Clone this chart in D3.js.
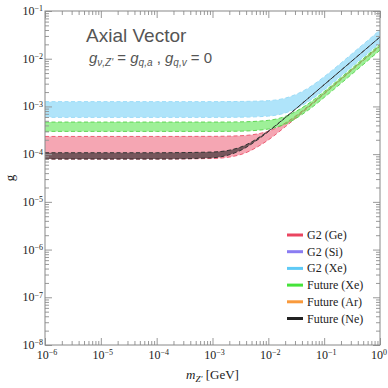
<!DOCTYPE html>
<html>
<head>
<meta charset="utf-8">
<script src="https://cdn.jsdelivr.net/npm/d3@7"></script>
<style>
  body { margin: 0; background: #fff; }
  svg { display: block; }
</style>
</head>
<body>
<div id="chart"></div>
<script>
// Data (mass in GeV, coupling g)
const masses = [1e-6, 1e-4, 1e-3, 3e-3, 1e-2, 2e-2, 5e-2, 1e-1, 3e-1, 1];

const g2GeHigh = [2.35e-4, 2.35e-4, 2.36e-4, 2.42e-4, 3.02e-4, 4.47e-4, 9.78e-4, 1.91e-3, 5.70e-3, 1.90e-2];
const g2GeLow  = [7.9e-5, 7.9e-5, 8.11e-5, 9.6e-5, 1.99e-4, 3.73e-4, 9.13e-4, 1.82e-3, 5.46e-3, 1.82e-2];
const g2XeHigh = [1.26e-3, 1.26e-3, 1.26e-3, 1.27e-3, 1.32e-3, 1.49e-3, 2.36e-3, 4.19e-3, 1.21e-2, 4.0e-2];
const g2XeLow  = [5.9e-4, 5.9e-4, 5.9e-4, 5.94e-4, 6.27e-4, 7.29e-4, 1.22e-3, 2.22e-3, 6.44e-3, 2.14e-2];
const futXeHigh = [4.7e-4, 4.7e-4, 4.7e-4, 4.74e-4, 5.11e-4, 6.17e-4, 1.105e-3, 2.05e-3, 6.02e-3, 2.0e-2];
const futXeLow  = [3.0e-4, 3.0e-4, 3.0e-4, 3.03e-4, 3.36e-4, 4.25e-4, 8.11e-4, 1.54e-3, 4.54e-3, 1.51e-2];
const futNeHigh = [1.07e-4, 1.07e-4, 1.107e-4, 1.37e-4, 3.05e-4, 5.81e-4, 1.43e-3, 2.86e-3, 8.56e-3, 2.85e-2];
const futNeLow  = [7.9e-5, 7.9e-5, 8.4e-5, 1.16e-4, 2.96e-4, 5.76e-4, 1.43e-3, 2.85e-3, 8.56e-3, 2.85e-2];

const legendNames = ["G2 (Ge)", "G2 (Si)", "G2 (Xe)", "Future (Xe)", "Future (Ar)", "Future (Ne)"];
const legendColors = ["#ea4560", "#8a7cf2", "#5fcaf6", "#45e33a", "#f99a3c", "#222222"];

const xDecades = [-6, -5, -4, -3, -2, -1, 0];
const yDecades = [-8, -7, -6, -5, -4, -3, -2, -1];

// Configuration
const width = 388;
const height = 388;
const margin = {top: 11, right: 8, bottom: 43, left: 45};

const x = d3.scaleLog().domain([1e-6, 1]).range([margin.left, width - margin.right]);
const y = d3.scaleLog().domain([1e-8, 1e-1]).range([height - margin.bottom, margin.top]);

const svg = d3.select("#chart").append("svg")
    .attr("width", width)
    .attr("height", height);

svg.append("defs").append("clipPath").attr("id", "clip")
  .append("rect")
    .attr("x", margin.left).attr("y", margin.top)
    .attr("width", x.range()[1] - margin.left)
    .attr("height", y.range()[0] - margin.top);

// Bands
const bands = [
    {low: g2GeLow, high: g2GeHigh, fill: "#ea4560", edge: "#ee5c74", op: 0.48},
    {low: g2XeLow, high: g2XeHigh, fill: "#5fcaf6", edge: "#9adcf8", op: 0.5},
    {low: futXeLow, high: futXeHigh, fill: "#45e33a", edge: "#5fd655", op: 0.52},
    {low: futNeLow, high: futNeHigh, fill: "#222222", edge: "#333333", op: 0.6}
];

const area = d3.area()
    .x(d => x(d.m))
    .y0(d => y(d.lo))
    .y1(d => y(d.hi))
    .curve(d3.curveMonotoneX);

const line = d3.line()
    .x(d => x(d[0]))
    .y(d => y(d[1]))
    .curve(d3.curveMonotoneX);

const plot = svg.append("g").attr("clip-path", "url(#clip)");

bands.forEach(b => {
    const pts = masses.map((m, i) => ({m: m, lo: b.low[i], hi: b.high[i]}));
    plot.append("path")
        .attr("d", area(pts))
        .attr("fill", b.fill)
        .attr("fill-opacity", b.op);
    [b.low, b.high].forEach(edge => {
        plot.append("path")
            .attr("d", line(masses.map((m, i) => [m, edge[i]])))
            .attr("fill", "none")
            .attr("stroke", b.edge)
            .attr("stroke-width", 1)
            .attr("stroke-dasharray", "4,2.5");
    });
});

// Axes (ticks inward on all four sides)
const tickColor = "#999";
const xMinor = x.ticks().filter(v => !xDecades.includes(Math.round(Math.log10(v) * 1000) / 1000));
const yMinor = y.ticks().filter(v => !yDecades.includes(Math.round(Math.log10(v) * 1000) / 1000));
const xMajor = xDecades.map(e => Math.pow(10, e));
const yMajor = yDecades.map(e => Math.pow(10, e));

function drawAxis(axisFn, scale, values, size, transform) {
    const g = svg.append("g")
        .attr("transform", transform)
        .call(axisFn(scale).tickValues(values).tickSize(size).tickFormat(""));
    g.select(".domain").remove();
    g.selectAll(".tick line").attr("stroke", tickColor);
}

const bottomY = y.range()[0];
const rightX = x.range()[1];
drawAxis(d3.axisBottom, x, xMajor, -7, `translate(0,${bottomY})`);
drawAxis(d3.axisBottom, x, xMinor, -4, `translate(0,${bottomY})`);
drawAxis(d3.axisTop, x, xMajor, -7, `translate(0,${margin.top})`);
drawAxis(d3.axisTop, x, xMinor, -4, `translate(0,${margin.top})`);
drawAxis(d3.axisLeft, y, yMajor, -7, `translate(${margin.left},0)`);
drawAxis(d3.axisLeft, y, yMinor, -4, `translate(${margin.left},0)`);
drawAxis(d3.axisRight, y, yMajor, -7, `translate(${rightX},0)`);
drawAxis(d3.axisRight, y, yMinor, -4, `translate(${rightX},0)`);

// Frame
svg.append("rect")
    .attr("x", margin.left).attr("y", margin.top)
    .attr("width", rightX - margin.left)
    .attr("height", bottomY - margin.top)
    .attr("fill", "none")
    .attr("stroke", "#888")
    .attr("stroke-width", 1);

// Tick labels
const labelFont = "'Liberation Serif', 'DejaVu Serif', serif";

function powLabel(sel, e) {
    sel.append("tspan").text("10");
    sel.append("tspan")
        .attr("dy", "-0.45em")
        .attr("font-size", "8px")
        .text(e === 0 ? "0" : "\u2212" + Math.abs(e));
}

xDecades.forEach(e => {
    const t = svg.append("text")
        .attr("x", e === 0 ? width - 1 : x(Math.pow(10, e)) + 2)
        .attr("y", bottomY + 14)
        .attr("text-anchor", e === 0 ? "end" : "middle")
        .attr("font-family", labelFont)
        .attr("font-size", "12px")
        .attr("fill", "#222");
    powLabel(t, e);
});

yDecades.forEach(e => {
    const t = svg.append("text")
        .attr("x", margin.left - 2)
        .attr("y", y(Math.pow(10, e)) + 4)
        .attr("text-anchor", "end")
        .attr("font-family", labelFont)
        .attr("font-size", "12px")
        .attr("fill", "#222");
    powLabel(t, e);
});

// Axis titles
const xt = svg.append("text")
    .attr("x", (margin.left + rightX) / 2)
    .attr("y", 379)
    .attr("text-anchor", "middle")
    .attr("font-family", labelFont)
    .attr("font-size", "13px")
    .attr("fill", "#222");
xt.append("tspan").attr("font-style", "italic").text("m");
xt.append("tspan").attr("font-style", "italic").attr("font-size", "9px").attr("dy", "3").text("Z'");
xt.append("tspan").attr("dy", "-3").text(" [GeV]");

svg.append("text")
    .attr("transform", `translate(14,${(margin.top + bottomY) / 2}) rotate(-90)`)
    .attr("text-anchor", "middle")
    .attr("font-family", labelFont)
    .attr("font-size", "13px")
    .attr("fill", "#222")
    .text("g");

// In-plot titles
svg.append("text")
    .attr("x", 86)
    .attr("y", 42)
    .attr("font-family", "'Liberation Sans', Arial, sans-serif")
    .attr("font-size", "19px")
    .attr("fill", "#555")
    .text("Axial Vector");

const sub = svg.append("text")
    .attr("x", 89)
    .attr("y", 63)
    .attr("font-family", "'Liberation Sans', Arial, sans-serif")
    .attr("font-size", "15px")
    .attr("font-style", "italic")
    .attr("fill", "#555");
sub.append("tspan").text("g");
sub.append("tspan").attr("font-size", "10px").attr("dy", "3").text("\u03bd,Z'");
sub.append("tspan").attr("dy", "-3").attr("font-style", "normal").text(" = ");
sub.append("tspan").text("g");
sub.append("tspan").attr("font-size", "10px").attr("dy", "3").text("q,a");
sub.append("tspan").attr("dy", "-3").attr("font-style", "normal").text(" , ");
sub.append("tspan").text("g");
sub.append("tspan").attr("font-size", "10px").attr("dy", "3").text("q,v");
sub.append("tspan").attr("dy", "-3").attr("font-style", "normal").text(" = 0");

// Legend
const legend = svg.selectAll(".legend")
    .data(legendNames)
    .enter().append("g")
    .attr("class", "legend")
    .attr("transform", (d, i) => `translate(287,${235 + i * 16.7})`);

legend.append("line")
    .attr("x1", 0).attr("x2", 16)
    .attr("y1", 0).attr("y2", 0)
    .attr("stroke", (d, i) => legendColors[i])
    .attr("stroke-width", 3);

legend.append("text")
    .attr("x", 20)
    .attr("y", 4)
    .attr("font-family", labelFont)
    .attr("font-size", "12px")
    .attr("fill", "#222")
    .text(d => d);
</script>
</body>
</html>
